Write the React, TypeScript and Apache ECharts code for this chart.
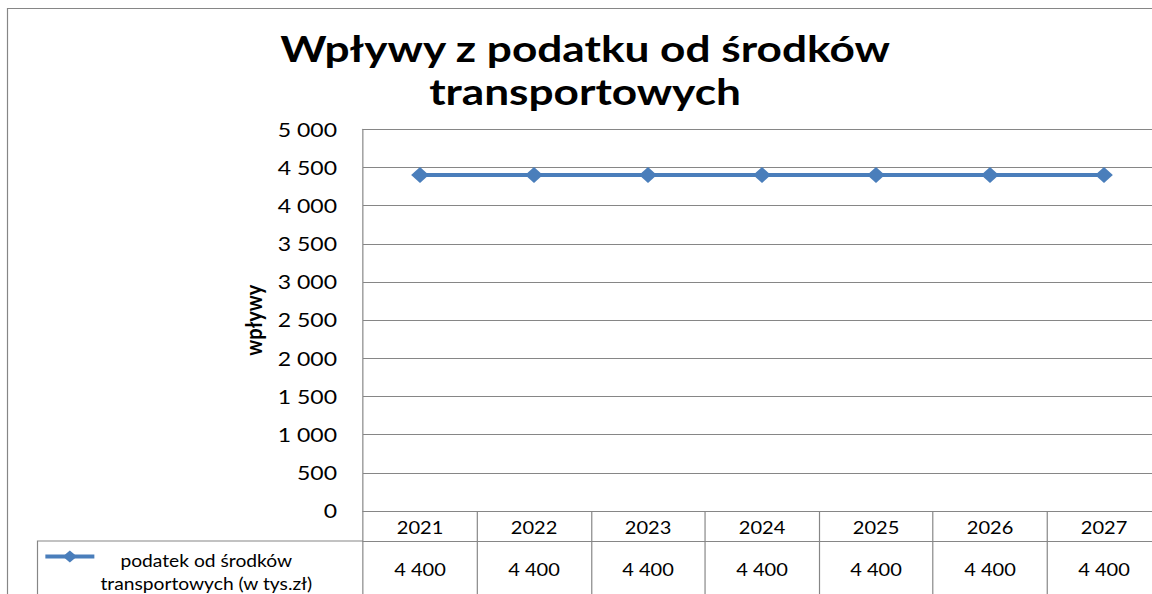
import React, { useEffect, useRef } from 'react';
import * as echarts from 'echarts';

// ---- data ----
const categories = ['2021', '2022', '2023', '2024', '2025', '2026', '2027'];
const values = [4400, 4400, 4400, 4400, 4400, 4400, 4400];
const seriesName = 'podatek od środków transportowych (w tys.zł)';
const legendLines = ['podatek od środków', 'transportowych (w tys.zł)'];
const titleLines = ['Wpływy z podatku od środków', 'transportowych'];
const yAxisName = 'wpływy';
const yMin = 0;
const yMax = 5000;
const yStep = 500;

// ---- layout ----
const S = 1.18; // horizontal stretch of the whole picture
const px = (x: number) => x / S;
const GRAY = '#868686';
const BLUE = '#4a7ebb';
const FONT = 'Lato';
const plotLeft = px(363);
const catW = px(114);
const plotTop = 129.3;
const plotBottom = 511;
const rowH = 30;

const fmt = (v: number) => String(v).replace(/\B(?=(\d{3})+(?!\d))/g, '\u00a0');

export default function App() {
  const ref = useRef<HTMLDivElement>(null);
  useEffect(() => {
    if (!ref.current) return;
    const chart = echarts.init(ref.current, null, { renderer: 'svg' });
    const option: any = {
      animation: false,
      backgroundColor: '#ffffff',
      textStyle: { fontFamily: FONT },
      grid: {
        left: plotLeft,
        top: plotTop,
        width: catW * categories.length,
        height: plotBottom - plotTop,
      },
      xAxis: [
        {
          type: 'category',
          data: categories,
          position: 'bottom',
          boundaryGap: true,
          axisLine: { show: true, lineStyle: { color: GRAY, width: 1 } },
          axisTick: { show: true, length: 100, alignWithLabel: false, interval: 0, lineStyle: { color: GRAY, width: 1 } },
          axisLabel: { interval: 0, margin: 8.5, color: '#000', fontSize: 17, fontFamily: FONT },
          splitLine: { show: false },
        },
        {
          type: 'category',
          data: values.map(fmt),
          position: 'bottom',
          offset: rowH,
          boundaryGap: true,
          axisLine: { show: true, lineStyle: { color: GRAY, width: 1 } },
          axisTick: { show: false },
          axisLabel: { interval: 0, margin: 20.5, color: '#000', fontSize: 17, fontFamily: FONT },
          splitLine: { show: false },
        },
      ],
      yAxis: {
        type: 'value',
        min: yMin,
        max: yMax,
        interval: yStep,
        name: yAxisName,
        nameLocation: 'middle',
        nameGap: px(363 - 265),
        nameTextStyle: { fontWeight: 'bold', fontSize: 20, color: '#000', fontFamily: FONT },
        axisLine: { show: true, lineStyle: { color: GRAY, width: 1 } },
        axisTick: { show: false },
        axisLabel: { margin: px(363 - 337), color: '#000', fontSize: 19.5, fontFamily: FONT, formatter: (v: number) => fmt(v) },
        splitLine: { show: true, lineStyle: { color: GRAY, width: 1 } },
      },
      legend: {
        show: true,
        data: [seriesName],
        left: px(43),
        top: 550.5,
        padding: 0,
        itemWidth: px(92 - 43),
        itemHeight: 15,
        lineStyle: { width: 4 },
        formatter: () => `{a|${legendLines[0]}}\n{a|${legendLines[1]}}`,
        textStyle: {
          padding: [31, 0, 0, 0],
          rich: { a: { align: 'center', fontSize: 16.3, lineHeight: 23, fontFamily: FONT, color: '#000' } },
        },
      },
      series: [
        {
          type: 'line',
          name: seriesName,
          data: values,
          xAxisIndex: 0,
          symbol: 'diamond',
          symbolSize: [15, 16],
          itemStyle: { color: BLUE },
          lineStyle: { color: BLUE, width: 4 },
          z: 5,
        },
      ],
      graphic: [
        {
          type: 'rect',
          shape: { x: px(7.5), y: 8.5, width: 2000, height: 2000 },
          style: { fill: 'none', stroke: GRAY, lineWidth: 1 },
          silent: true,
        },
        {
          type: 'polyline',
          shape: { points: [[px(37.5), 700], [px(37.5), plotBottom + rowH], [plotLeft, plotBottom + rowH]] },
          style: { fill: 'none', stroke: GRAY, lineWidth: 1 },
          silent: true,
        },
        {
          type: 'text',
          x: px(585),
          y: 27,
          scaleX: 1.04,
          style: {
            text: titleLines.join('\n'),
            fontFamily: FONT,
            fontWeight: 'bold',
            fontSize: 36,
            lineHeight: 43,
            align: 'center',
            verticalAlign: 'top',
            fill: '#000',
          },
        },
      ],
    };
    chart.setOption(option);
    return () => chart.dispose();
  }, []);
  return (
    <div style={{ position: 'absolute', left: 0, top: 0, width: 1152, height: 594, overflow: 'hidden', background: '#fff' }}>
      <div
        ref={ref}
        style={{ position: 'absolute', left: 0, top: 0, width: 1000, height: 594, transform: `scaleX(${S})`, transformOrigin: '0 0' }}
      />
    </div>
  );
}
